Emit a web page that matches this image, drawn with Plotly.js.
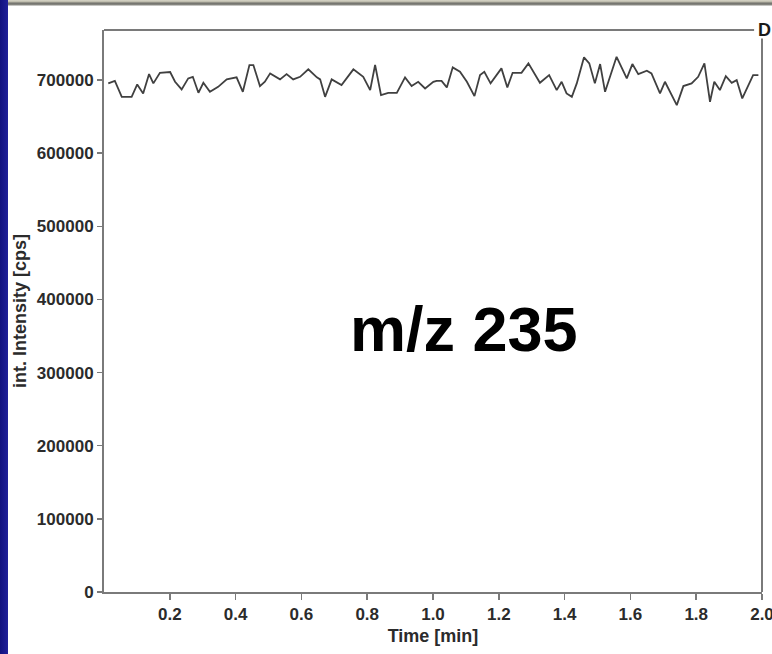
<!DOCTYPE html>
<html>
<head>
<meta charset="utf-8">
<script src="https://cdn.plot.ly/plotly-3.0.1.min.js"></script>
<style>
  html, body { margin: 0; padding: 0; background: #ffffff; }
  #wrap {
    position: relative; width: 772px; height: 654px; overflow: hidden;
    background:
      linear-gradient(to right, #12127e 0px, #1c1c92 6px, #22229a 8px, rgba(0,0,0,0) 8px),
      linear-gradient(to bottom, #d8d6c8 0px, #b9b7a8 2px, #6f6f6a 3px, #8a8a84 5px, #ffffff 6px);
  }
  #chart { position: absolute; left: 0; top: 0; width: 772px; height: 654px; }
</style>
</head>
<body>
<div id="wrap"><div id="chart"></div></div>
<script>
// Time [min]
const time = [0.013,0.033,0.054,0.084,0.101,0.119,0.137,0.150,0.170,0.201,
  0.216,0.236,0.256,0.270,0.287,0.302,0.322,0.347,0.373,0.403,
  0.422,0.442,0.454,0.474,0.489,0.505,0.535,0.555,0.575,0.596,
  0.621,0.647,0.657,0.672,0.692,0.722,0.758,0.788,0.809,0.824,
  0.842,0.864,0.890,0.915,0.935,0.955,0.976,1.001,1.011,1.026,
  1.042,1.060,1.082,1.103,1.126,1.143,1.156,1.175,1.208,1.226,
  1.242,1.269,1.290,1.325,1.353,1.376,1.391,1.406,1.422,1.437,
  1.459,1.475,1.492,1.508,1.523,1.558,1.589,1.606,1.624,1.650,
  1.664,1.690,1.705,1.741,1.761,1.786,1.806,1.825,1.842,1.855,
  1.872,1.890,1.908,1.923,1.940,1.973,1.989];

// int. Intensity [cps]
const intensity = [695500,699000,677100,677100,694100,681800,708200,695500,710000,711000,
  697700,687300,702300,704500,682600,696300,684000,690800,701000,703700,
  684000,720600,720600,691800,697700,709200,701000,708200,701000,704500,
  714700,703700,701000,677100,701000,693200,714700,704500,686300,720600,
  679500,682600,682600,703700,691800,697700,688600,697700,699000,699000,
  690000,717400,711400,697700,678100,706900,711400,695500,716000,690000,
  710000,710000,722900,696300,706900,686300,697700,681800,677100,695500,
  731100,722900,695500,721900,684000,731900,702300,721900,708200,712800,
  709200,681800,697700,665800,691800,695500,704500,722900,670300,697700,
  686300,705500,696300,700000,675000,706900,706900];

const xTicks = [0.2,0.4,0.6,0.8,1.0,1.2,1.4,1.6,1.8,2.0];
const xTickText = ["0.2","0.4","0.6","0.8","1.0","1.2","1.4","1.6","1.8","2.0"];
const yTicks = [0,100000,200000,300000,400000,500000,600000,700000];
const yTickText = ["0","100000","200000","300000","400000","500000","600000","700000"];

const labelText = "m/z 235";
const cornerLetter = "D";

const FAM = "Liberation Sans, Arial, sans-serif";
const tickFont = {family: FAM, size: 17, color: "#2b2b2b", weight: "bold"};
const titleFont = {family: FAM, size: 18, color: "#2b2b2b", weight: "bold"};
const axisGray = "#7a7a7a";

const trace = {
  x: time, y: intensity, type: "scatter", mode: "lines",
  line: {color: "#404040", width: 1.8},
  hoverinfo: "skip"
};

const layout = {
  width: 772, height: 654,
  margin: {l: 104, r: 10, t: 30, b: 62},
  paper_bgcolor: "rgba(0,0,0,0)",
  plot_bgcolor: "rgba(0,0,0,0)",
  showlegend: false,
  xaxis: {
    range: [0, 2.0],
    tickvals: xTicks, ticktext: xTickText,
    ticks: "outside", ticklen: 6, tickwidth: 1.5, tickcolor: axisGray,
    ticklabeloverflow: "allow",
    showline: true, linecolor: axisGray, linewidth: 2,
    showgrid: false, zeroline: false,
    tickfont: tickFont,
    title: {text: "Time [min]", font: titleFont, standoff: 6}
  },
  yaxis: {
    range: [0, 768500],
    tickvals: yTicks, ticktext: yTickText,
    ticks: "outside", ticklen: 5, tickwidth: 1.5, tickcolor: axisGray,
    showline: true, linecolor: axisGray, linewidth: 2,
    showgrid: false, zeroline: false,
    tickfont: tickFont,
    title: {text: "int. Intensity [cps]", font: titleFont, standoff: 6}
  },
  shapes: [
    {type: "line", xref: "paper", yref: "paper", x0: 0, x1: 0.988, y0: 1, y1: 1,
     line: {color: axisGray, width: 2}},
    {type: "line", xref: "paper", yref: "paper", x0: 1, x1: 1, y0: 0, y1: 0.985,
     line: {color: axisGray, width: 2}}
  ],
  annotations: [
    {text: labelText, xref: "paper", yref: "paper", x: 0.547, y: 0.468,
     xanchor: "center", yanchor: "middle", showarrow: false,
     font: {family: FAM, size: 63, color: "#000000", weight: "bold"}},
    {text: cornerLetter, xref: "paper", yref: "paper", x: 1.004, y: 1,
     xanchor: "center", yanchor: "middle", showarrow: false,
     font: {family: FAM, size: 18, color: "#1a1a1a", weight: "bold"}}
  ]
};

Plotly.newPlot("chart", [trace], layout, {displayModeBar: false, staticPlot: true});
</script>
</body>
</html>
